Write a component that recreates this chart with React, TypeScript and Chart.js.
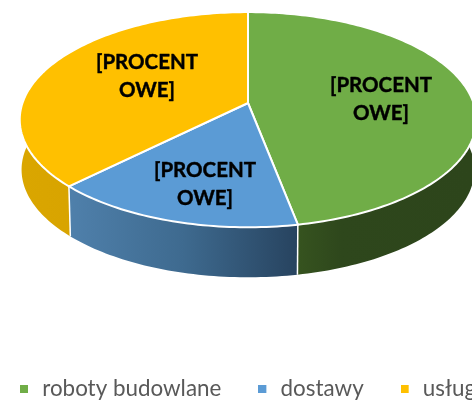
import React, { useEffect, useRef } from "react";
import { Chart, registerables } from "chart.js";

Chart.register(...registerables);

const categories = ["roboty budowlane", "dostawy", "usługi"];
const shares = [47, 15.5, 37.5];
const sliceLabel = ["[PROCENT", "OWE]"];
const topColors = ["#70AD47", "#5B9BD5", "#FFC000"];
const sideStops = [
  ["#36531F", "#2E471C", "#2D451B"],
  ["#4F80AB", "#3E6A8F", "#27435F"],
  ["#DAA600", "#D9A500", "#D8A400"],
];
const sideStopAt = [
  [0, 0.25, 1],
  [0, 0.5, 1],
  [0, 0.5, 1],
];

const SHIFT = 17; // the canvas starts left of the page so that the legend runs off the right edge
const CX = 248 + SHIFT;
const CY = 103;
const RX = 225.5;
const RY = 105;
const P = 0.155;
const DEPTH = 50;
const SHRINK = 0.992;
const labelSpots = [
  [381 + SHIFT, 99],
  [205 + SHIFT, 184],
  [147 + SHIFT, 76],
];

const project = (a: number) => {
  const s = 1 / (1 - P * Math.sin(a));
  return { x: CX + RX * Math.cos(a) * s, y: CY + RY * Math.sin(a) * s };
};

const arcPoints = (start: number, end: number) => {
  const pts = [];
  const n = Math.max(8, Math.ceil((end - start) / 0.02));
  for (let i = 0; i <= n; i++) pts.push(project(start + ((end - start) * i) / n));
  return pts;
};

const lower = (p: { x: number; y: number }) => ({
  x: CX + (p.x - CX) * SHRINK,
  y: p.y + DEPTH,
});

const pie3d = {
  id: "pie3d",
  beforeDatasetDraw: () => false,
  afterDatasetsDraw(chart: any) {
    const ctx = chart.ctx;
    const arcs = chart.getDatasetMeta(0).data;
    ctx.save();
    ctx.lineJoin = "round";
    arcs.forEach((arc: any, i: number) => {
      const top = arcPoints(arc.startAngle, arc.endAngle);
      const xs = top.map((p) => p.x);
      const visLeft = i === 2 ? 20 + SHIFT : Math.min(...xs);
      const visRight = i === 2 ? top[0].x : Math.max(...xs);
      const from = i === 0 ? top[top.length - 1].x : visLeft;
      const to = i === 0 ? 472 + SHIFT : visRight;
      const g = ctx.createLinearGradient(from, 0, to, 0);
      sideStops[i].forEach((c, k) => g.addColorStop(sideStopAt[i][k], c));
      ctx.beginPath();
      top.forEach((p, k) => (k ? ctx.lineTo(p.x, p.y) : ctx.moveTo(p.x, p.y)));
      [...top].reverse().forEach((p) => {
        const q = lower(p);
        ctx.lineTo(q.x, q.y);
      });
      ctx.closePath();
      ctx.fillStyle = g;
      ctx.fill();
    });
    ctx.strokeStyle = "#FFFFFF";
    ctx.lineWidth = 1.5;
    arcs.forEach((arc: any) => {
      const p = project(arc.startAngle);
      const q = lower(p);
      if (Math.sin(arc.startAngle) > 0) {
        ctx.beginPath();
        ctx.moveTo(p.x, p.y);
        ctx.lineTo(q.x, q.y);
        ctx.stroke();
      }
    });
    ctx.lineWidth = 2;
    arcs.forEach((arc: any, i: number) => {
      const top = arcPoints(arc.startAngle, arc.endAngle);
      ctx.beginPath();
      ctx.moveTo(CX, CY);
      top.forEach((p) => ctx.lineTo(p.x, p.y));
      ctx.closePath();
      ctx.fillStyle = topColors[i];
      ctx.fill();
      ctx.stroke();
    });
    ctx.fillStyle = "#000000";
    ctx.strokeStyle = "#000000";
    ctx.lineWidth = 0.4;
    ctx.font = "bold 20.5px Lato";
    ctx.textAlign = "center";
    ctx.textBaseline = "middle";
    labelSpots.forEach(([x, y]) => {
      sliceLabel.forEach((line, k) => {
        const ly = y + (k ? 14 : -14);
        ctx.fillText(line, x, ly);
        ctx.strokeText(line, x, ly);
      });
    });
    ctx.restore();
  },
};

export default function App() {
  const ref = useRef<HTMLCanvasElement | null>(null);
  useEffect(() => {
    document.body.style.margin = "0";
    document.body.style.overflow = "hidden";
    const marks = topColors.map((color) => {
      const c = document.createElement("canvas");
      c.width = 11;
      c.height = 8;
      const g = c.getContext("2d") as CanvasRenderingContext2D;
      g.fillStyle = color;
      g.fillRect(0, 0, 8, 8);
      return c;
    });
    const chart = new Chart(ref.current as HTMLCanvasElement, {
      type: "pie",
      data: {
        labels: categories,
        datasets: [{ data: shares, backgroundColor: topColors, borderWidth: 0 }],
      },
      options: {
        responsive: false,
        animation: false,
        events: [],
        plugins: {
          tooltip: { enabled: false },
          legend: {
            position: "bottom",
            align: "start",
            labels: {
              color: "#595959",
              font: { family: "Lato", size: 22.4 },
              padding: 37,
              usePointStyle: true,
              pointStyleWidth: 11,
              boxHeight: 8,
              generateLabels: () =>
                categories.map((text, i) => ({
                  text,
                  fillStyle: topColors[i],
                  strokeStyle: topColors[i],
                  lineWidth: 0,
                  fontColor: "#595959",
                  pointStyle: marks[i],
                  hidden: false,
                  index: i,
                })),
            },
          },
        },
      } as any,
      plugins: [pie3d],
    });
    return () => chart.destroy();
  }, []);
  return (
    <div style={{ position: "absolute", left: 0, top: 0, width: 472, height: 400, overflow: "hidden" }}>
      <canvas
        ref={ref}
        width={640}
        height={410}
        style={{ position: "absolute", left: -SHIFT, top: 0, width: 640, height: 410 }}
      />
    </div>
  );
}
